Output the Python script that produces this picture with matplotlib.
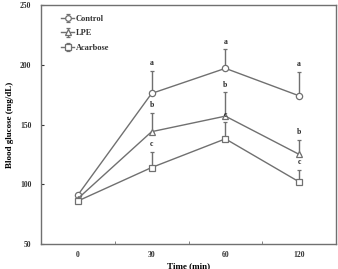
import numpy as np
import matplotlib.pyplot as plt

plt.rcParams['font.family'] = ['Liberation Serif', 'DejaVu Serif']
plt.rcParams['font.weight'] = 'bold'

times = ['0', '30', '60', '120']
control = [91, 176, 197, 174]
control_err = [0, 19, 16, 20]
lpe = [88, 144, 157, 125]
lpe_err = [0, 16, 20, 12]
acarbose = [86, 114, 138, 102]
acarbose_err = [0, 13, 14, 10]
control_sig = ['', 'a', 'a', 'a']
lpe_sig = ['', 'b', 'b', 'b']
acarbose_sig = ['', 'c', 'c', 'c']

gray = '#707070'
fig = plt.figure(figsize=(3.38, 2.69), dpi=100)
ax = fig.add_axes([41 / 338, 1 - 244 / 269, 295 / 338, 239 / 269])
x = np.arange(len(times))

series = [
    ('Control', control, control_err, control_sig, 'o', 4.5),
    ('LPE', lpe, lpe_err, lpe_sig, '^', 4.5),
    ('Acarbose', acarbose, acarbose_err, acarbose_sig, 's', 4.5),
]
for name, vals, err, sig, mk, ms in series:
    ax.errorbar(x, vals, yerr=[np.zeros(len(err)), err], color=gray, lw=1,
                marker=mk, ms=ms, mfc='white', mec=gray, mew=0.9,
                capsize=1.5, elinewidth=1, label=name)
    for xi, v, e, s in zip(x, vals, err, sig):
        if s:
            ax.text(xi, v + e + 3, s, ha='center', va='bottom', fontsize=5.5,
                    fontweight='bold', color='#222222')

ax.set_xlim(-0.5, 3.5)
ax.set_ylim(50, 250)
ax.set_xticks(x)
ax.set_xticklabels(times)
ax.set_xticks([0.5, 1.5, 2.5], minor=True)
ax.set_yticks([50, 100, 150, 200, 250])
ax.tick_params(axis='x', which='major', length=0, labelsize=5.5, pad=5, colors='#333333')
ax.tick_params(axis='x', which='minor', direction='in', length=2, color=gray)
ax.tick_params(axis='y', direction='in', length=2, labelsize=5.5, pad=7, colors='#333333')
for s in ax.spines.values():
    s.set_color(gray)
    s.set_linewidth(1)

ax.set_ylabel('Blood glucose (mg/dL)', fontsize=6.5, fontweight='bold', labelpad=4)
ax.set_xlabel('Time (min)', fontsize=6.5, fontweight='bold', labelpad=2)

leg = ax.legend(loc='upper left', bbox_to_anchor=(0.055, 0.975), frameon=False,
                fontsize=6, handlelength=1.5, labelspacing=0.75, handletextpad=0.2,
                borderpad=0, markerscale=0.9)
for t in leg.get_texts():
    t.set_color('#333333')

fig.savefig('out.png', dpi=100)
